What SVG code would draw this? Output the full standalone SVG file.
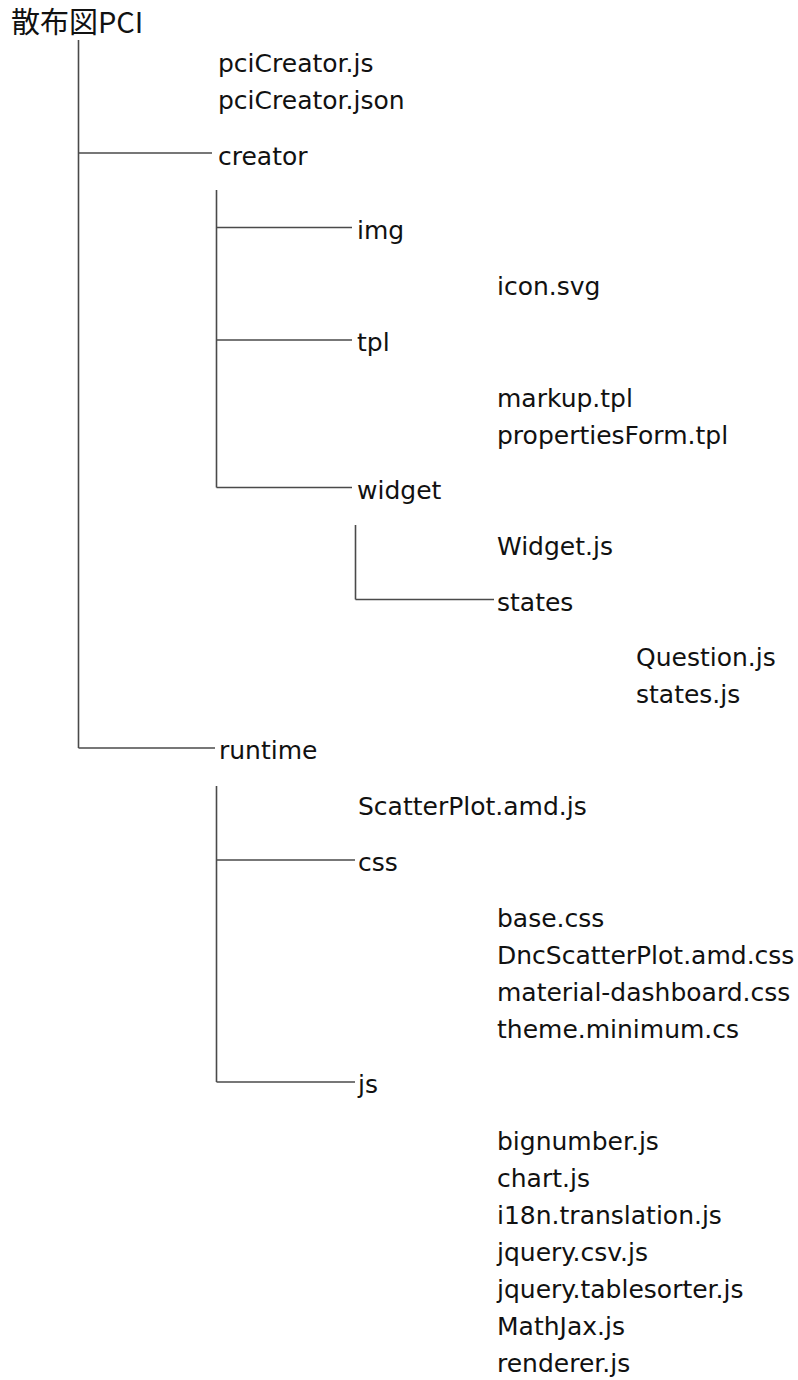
<svg xmlns="http://www.w3.org/2000/svg" width="798" height="1380" viewBox="0 0 798 1380">
<style>
.t{font-family:"DejaVu Sans","Noto Sans CJK JP",sans-serif;font-size:25px;fill:#111}
.h{font-family:"Noto Sans CJK JP","DejaVu Sans",sans-serif;font-size:29px;fill:#111}
.c line{stroke:#4a4a4a;stroke-width:1.6;fill:none}
</style>
<rect width="798" height="1380" fill="#fff"/>
<g id="connectors" class="c">
<line x1="78.5" y1="40" x2="78.5" y2="748"/>
<line x1="78.5" y1="153" x2="212" y2="153"/>
<line x1="78.5" y1="748" x2="215" y2="748"/>
<line x1="216.5" y1="190" x2="216.5" y2="487.5"/>
<line x1="216.5" y1="227.5" x2="352" y2="227.5"/>
<line x1="216.5" y1="340" x2="352" y2="340"/>
<line x1="216.5" y1="487.5" x2="352" y2="487.5"/>
<line x1="355.5" y1="525" x2="355.5" y2="599.5"/>
<line x1="355.5" y1="599.5" x2="494" y2="599.5"/>
<line x1="216.5" y1="786" x2="216.5" y2="1082"/>
<line x1="216.5" y1="860" x2="355" y2="860"/>
<line x1="216.5" y1="1082" x2="355" y2="1082"/>
</g>
<g id="root"><text class="h" x="11" y="33">散布図PCI</text></g>
<g id="root-files"><text class="t" x="218" y="72">pciCreator.js</text><text class="t" x="218" y="109">pciCreator.json</text></g>
<g id="creator"><text class="t" x="218" y="165">creator</text></g>
<g id="img"><text class="t" x="357" y="239">img</text></g>
<g id="img-files"><text class="t" x="497" y="295">icon.svg</text></g>
<g id="tpl"><text class="t" x="357" y="351">tpl</text></g>
<g id="tpl-files"><text class="t" x="497" y="407">markup.tpl</text><text class="t" x="497" y="444">propertiesForm.tpl</text></g>
<g id="widget"><text class="t" x="357" y="499">widget</text></g>
<g id="widget-files"><text class="t" x="497" y="555">Widget.js</text></g>
<g id="states"><text class="t" x="497" y="611">states</text></g>
<g id="states-files"><text class="t" x="636" y="666">Question.js</text><text class="t" x="636" y="703">states.js</text></g>
<g id="runtime"><text class="t" x="219" y="759">runtime</text></g>
<g id="runtime-files"><text class="t" x="358" y="815">ScatterPlot.amd.js</text></g>
<g id="css"><text class="t" x="358" y="871">css</text></g>
<g id="css-files"><text class="t" x="497" y="927">base.css</text><text class="t" x="497" y="964">DncScatterPlot.amd.css</text><text class="t" x="497" y="1001">material-dashboard.css</text><text class="t" x="497" y="1038">theme.minimum.cs</text></g>
<g id="js"><text class="t" x="358" y="1093">js</text></g>
<g id="js-files"><text class="t" x="497" y="1150">bignumber.js</text><text class="t" x="497" y="1187">chart.js</text><text class="t" x="497" y="1224">i18n.translation.js</text><text class="t" x="497" y="1261">jquery.csv.js</text><text class="t" x="497" y="1298">jquery.tablesorter.js</text><text class="t" x="497" y="1335">MathJax.js</text><text class="t" x="497" y="1372">renderer.js</text></g>
</svg>
